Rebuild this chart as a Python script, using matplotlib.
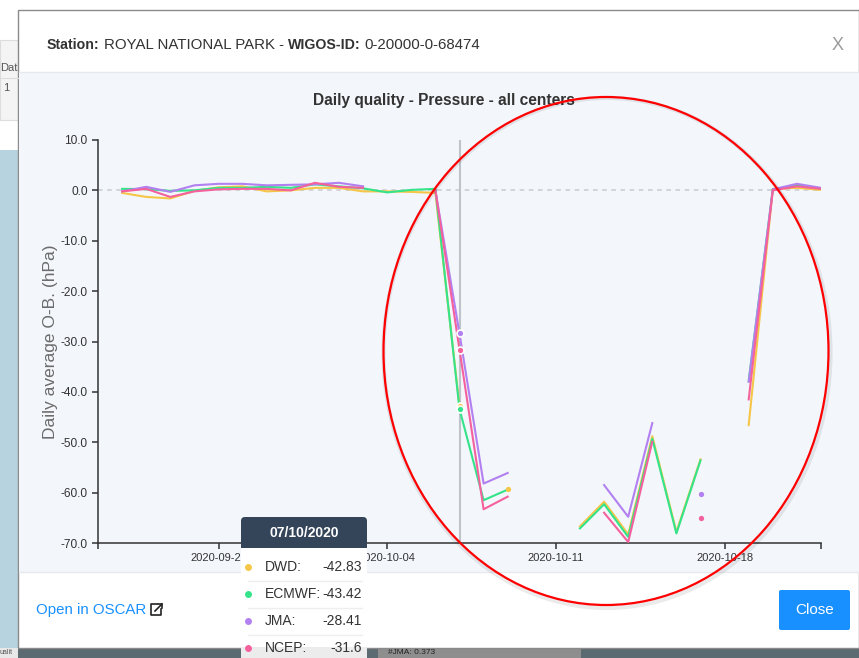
import matplotlib.pyplot as plt
import matplotlib.dates as mdates
from matplotlib.patches import Rectangle, Ellipse, FancyBboxPatch
import numpy as np
import pandas as pd

W, H = 859, 658
nan = np.nan

# daily average O-B (hPa), one value per day from 2020-09-23 to 2020-10-22
dates = pd.date_range('2020-09-23', '2020-10-22', freq='D')
dwd = [-0.5, -1.3, -1.6, -0.1, 0.6, 0.8, -0.2, 0.0, 0.5, 0.5,
       -0.2, -0.2, -0.3, -0.5, -42.83, nan, -59.3, nan, nan, -66.7,
       -61.8, -68.3, -48.8, -67.8, -53.4, nan, -46.6, 0.3, 0.5, 0.1]
ecmwf = [0.3, 0.25, -0.1, 0.0, 0.5, 0.5, 0.7, 0.5, 1.2, 0.8,
         0.4, -0.4, 0.1, 0.3, -43.42, -61.5, -59.4, nan, nan, -67.1,
         -62.3, -68.8, -49.3, -68.1, -53.6, nan, -37.8, 0.2, 1.0, 0.4]
jma = [-0.2, 0.7, -0.3, 1.0, 1.3, 1.3, 1.0, 1.1, 1.2, 1.5,
       0.8, nan, nan, 0.0, -28.41, -58.2, -56.1, nan, nan, nan,
       -58.5, -64.8, -46.2, nan, -60.2, nan, -38.0, 0.2, 1.3, 0.5]
ncep = [-0.2, 0.3, -1.3, -0.2, 0.2, 0.3, 0.3, 0.0, 1.5, 0.7,
        0.5, nan, nan, 0.0, -31.6, -63.3, -60.8, nan, nan, nan,
        -64.0, -69.8, -49.9, nan, -65.1, nan, -41.5, 0.0, 0.8, 0.3]

centers = ['DWD', 'ECMWF', 'JMA', 'NCEP']
colors = ['#f5c647', '#34e38a', '#b280f0', '#f4619d']
series = [dwd, ecmwf, jma, ncep]
hover_day = pd.Timestamp('2020-10-07')
hover_label = '07/10/2020'
hover_vals = [-42.83, -43.42, -28.41, -31.6]
yticks = np.arange(-70, 11, 10)
xticks = pd.to_datetime(['2020-09-27', '2020-10-04', '2020-10-11', '2020-10-18'])
xends = pd.to_datetime(['2020-09-22', '2020-10-22'])

plt.rcParams['font.family'] = ['Liberation Sans', 'DejaVu Sans']

fig = plt.figure(figsize=(W / 100, H / 100), dpi=100)

# background: page behind the modal + modal itself (pixel coords)
bg = fig.add_axes([0, 0, 1, 1], zorder=0)
bg.set_xlim(0, W)
bg.set_ylim(H, 0)
bg.axis('off')
bg.add_patch(Rectangle((0, 0), W, H, fc='white', ec='none'))
bg.add_patch(Rectangle((0, 40), 18, 80, fc='#f4f4f4', ec='#dddddd', lw=0.8))
bg.plot([0, 18], [78, 78], color='#dddddd', lw=0.8)
bg.add_patch(Rectangle((0, 150), 18, 498, fc='#b6d3df', ec='none'))
bg.text(0, 68, 'Dat', fontsize=8, color='#555', va='center')
bg.text(3, 88, '1', fontsize=8, color='#555', va='center')
bg.add_patch(Rectangle((0, 648), W, 10, fc='#5c6a72', ec='none'))
bg.add_patch(Rectangle((378, 648), 203, 10, fc='#8e8e8e', ec='none'))
bg.text(388, 653, '#JMA: 0.373', fontsize=6, color='#222', va='center')
bg.add_patch(Rectangle((0, 648), 18, 10, fc='#e8e8e8', ec='none'))
bg.text(0, 653, 'ualit', fontsize=5, color='#555', va='center')
bg.add_patch(Rectangle((18, 10), W - 18, 638, fc='white', ec='#8a8a8a', lw=1))
bg.add_patch(Rectangle((19, 72), W - 19, 500, fc='#f3f6fb', ec='none'))
bg.plot([19, W], [72, 72], color='#e6e9ee', lw=1)
bg.plot([19, W], [572, 572], color='#e6e9ee', lw=1)

# header line with mixed bold / normal parts
r = fig.canvas.get_renderer()
x = 47
for s, w, fs in [('Station:', 'bold', 10.2), ('ROYAL NATIONAL PARK -', 'normal', 10.8),
                 ('WIGOS-ID:', 'bold', 10.2), ('0-20000-0-68474', 'normal', 10.8)]:
    t = bg.text(x, 45, s, fontsize=fs, weight=w, color='#333333', va='center')
    x = t.get_window_extent(r).x1 + 4
bg.text(838, 45, 'X', fontsize=13, color='#9a9a9a', ha='center', va='center')
bg.text(444, 100, 'Daily quality - Pressure - all centers', fontsize=11.2,
        weight='bold', color='#333333', ha='center', va='center')

# chart
ax = fig.add_axes([98 / W, 1 - 543 / H, 723 / W, 403 / H], zorder=1)
ax.patch.set_alpha(0)
ax.axhline(0, color='#c8cacf', lw=1.1, ls=(0, (3, 3)), zorder=1)
ax.axvline(hover_day, color='#bfc3ca', lw=1.5, zorder=2)
for name, vals, c in zip(centers, series, colors):
    v = np.array(vals, dtype=float)
    ax.plot(dates, v, color=c, lw=1.5, zorder=3)
    prev = np.r_[nan, v[:-1]]
    nxt = np.r_[v[1:], nan]
    lone = ~np.isnan(v) & np.isnan(prev) & np.isnan(nxt)
    ax.plot(dates[lone], v[lone], 'o', color=c, ms=3.8, mec='none', zorder=4)
for val, c in zip(hover_vals, colors):
    ax.plot([hover_day], [val], 'o', color=c, ms=5, mec='white', mew=1.2, zorder=5)

ax.set_xlim(xends[0], xends[1])
ax.set_ylim(-70, 10)
ax.set_yticks(yticks)
ax.set_yticklabels([f'{v:.1f}' for v in yticks])
ax.set_xticks(xticks)
ax.xaxis.set_major_formatter(mdates.DateFormatter('%Y-%m-%d'))
ax.set_xticks(xends, minor=True)
for s in ['top', 'right']:
    ax.spines[s].set_visible(False)
for s in ['left', 'bottom']:
    ax.spines[s].set_color('#333333')
    ax.spines[s].set_linewidth(1.1)
ax.tick_params(axis='y', length=4, width=1.1, color='#333333', labelsize=8.6,
               labelcolor='#333333', pad=3.5)
ax.tick_params(axis='x', which='both', length=4.5, width=1.1, color='#333333',
               labelsize=8, labelcolor='#333333', pad=3)
ax.set_ylabel('Daily average O-B. (hPa)', fontsize=12.5, color='#6b6b6b')
ax.yaxis.set_label_coords(-0.056, 0.5)

# overlay: tooltip, footer, annotation
ov = fig.add_axes([0, 0, 1, 1], zorder=3)
ov.set_xlim(0, W)
ov.set_ylim(H, 0)
ov.axis('off')
ov.patch.set_visible(False)

ov.add_patch(FancyBboxPatch((241, 517), 126, 36, boxstyle='round,pad=0,rounding_size=4',
                            fc='#344459', ec='none'))
ov.add_patch(Rectangle((241, 548), 126, 110, fc='white', ec='none'))
ov.add_patch(Rectangle((241, 647), 126, 11, fc='#ececec', ec='none'))
ov.text(304, 533, hover_label, fontsize=10, weight='bold', color='white',
        ha='center', va='center')
for i, (name, val, c) in enumerate(zip(centers, hover_vals, colors)):
    y = 567 + i * 27
    ov.plot([248], [y], 'o', color=c, ms=5, mec='none')
    ov.text(265, y, name + ':', fontsize=10, color='#333333', va='center')
    ov.text(362, y, f'{val:g}', fontsize=10, color='#333333', va='center', ha='right')
    if i < 3:
        ov.plot([248, 362], [y + 13.5, y + 13.5], color='#eeeeee', lw=1)

ov.text(36, 610, 'Open in OSCAR', fontsize=10.8, color='#1890ff', va='center')
ov.plot([157, 151, 151, 161, 161], [604, 604, 615, 615, 609], color='#222', lw=1.2)
ov.plot([155, 162], [611, 604], color='#222', lw=1.2)
ov.plot([158, 162, 162], [604, 604, 608], color='#222', lw=1.2)

ov.add_patch(FancyBboxPatch((779, 590), 71, 40, boxstyle='round,pad=0,rounding_size=2',
                            fc='#1890ff', ec='none'))
ov.text(814.5, 610, 'Close', fontsize=11, color='white', ha='center', va='center')

ov.add_patch(Ellipse((607, 353), 447, 510, fill=False, ec='black', lw=3, alpha=0.08))
ov.add_patch(Ellipse((606, 351), 445, 508, fill=False, ec='#ff0000', lw=1.6))

fig.savefig('out.png', dpi=100)
